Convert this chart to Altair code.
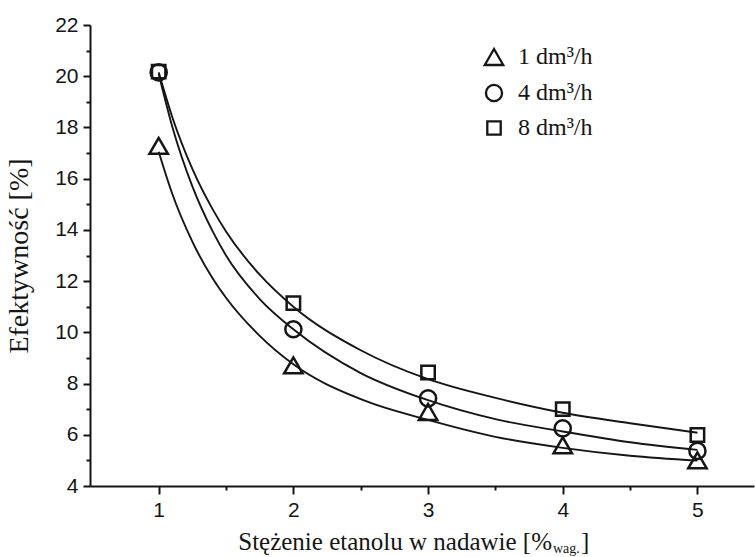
import altair as alt
import pandas as pd

# Ethanol concentration in the feed [wt %]
conc = [1, 2, 3, 4, 5]

# Flow-rate series
series = ["1 dm³/h", "4 dm³/h", "8 dm³/h"]
shapes = ["triangle-up", "circle", "square"]
marker_sizes = [340, 180, 190]

# Measured efficiency [%]
eff_1 = [17.28, 8.71, 6.89, 5.59, 5.00]
eff_4 = [20.15, 10.12, 7.42, 6.25, 5.37]
eff_8 = [20.18, 11.14, 8.43, 7.00, 5.99]

# Fitted trend curves, sampled along the concentration axis
fit_x = [1, 1.1, 1.25, 1.4, 1.5, 1.75, 2, 2.5, 3, 3.5, 4, 4.5, 5]
fit_1 = [17.05, 15.42, 13.54, 12.11, 11.35, 9.86, 8.75, 7.39, 6.58, 5.92, 5.49, 5.18, 4.99]
fit_4 = [20.10, 18.05, 15.70, 13.95, 13.00, 11.30, 10.12, 8.41, 7.35, 6.61, 6.13, 5.71, 5.41]
fit_8 = [20.15, 18.42, 16.38, 14.81, 13.94, 12.25, 11.00, 9.30, 8.17, 7.44, 6.86, 6.45, 6.08]

x_major = [1, 2, 3, 4, 5]
x_minor = [1.5, 2.5, 3.5, 4.5]
y_major = list(range(4, 23, 2))
y_minor = list(range(5, 22, 2))

x_title_main = "Stężenie etanolu w nadawie [%"
x_title_sub = "wag."
x_title_end = "]"
y_title = "Efektywność [%]"

ink = "#151515"

points = pd.DataFrame({
    "conc": conc * 3,
    "eff": eff_1 + eff_4 + eff_8,
    "series": [s for s in series for _ in conc],
})
curves = pd.DataFrame({
    "conc": fit_x * 3,
    "eff": fit_1 + fit_4 + fit_8,
    "series": [s for s in series for _ in fit_x],
})

x_scale = alt.Scale(domain=[0.49, 5.42], nice=False, zero=False)
y_scale = alt.Scale(domain=[4, 22], nice=False, zero=False)

W, H = 664, 461

# Curves carry the minor-tick axes
lines = alt.Chart(curves).mark_line(
    color=ink, strokeWidth=1.9, interpolate="monotone"
).encode(
    x=alt.X("conc:Q", scale=x_scale, axis=alt.Axis(
        orient="bottom", values=x_minor, labels=False, domain=False, grid=False,
        title=None, tickSize=4, tickWidth=2, tickColor=ink)),
    y=alt.Y("eff:Q", scale=y_scale, axis=alt.Axis(
        orient="left", values=y_minor, labels=False, domain=False, grid=False,
        title=None, tickSize=4, tickWidth=2, tickColor=ink)),
    detail="series:N",
)

legend = alt.Legend(
    title=None, orient="none", legendX=392, legendY=20, direction="vertical",
    labelFont="Liberation Serif", labelFontSize=24, labelColor=ink,
    labelOffset=12, rowPadding=10, padding=0,
    symbolStrokeColor=ink, symbolStrokeWidth=2.3,
)

markers = alt.Chart(points).mark_point(
    filled=False, strokeWidth=2.5, color=ink, opacity=1
).encode(
    x=alt.X("conc:Q", scale=x_scale, axis=alt.Axis(
        orient="bottom", values=x_major, format="d", grid=False, title=None,
        tickSize=8, tickWidth=2, tickColor=ink,
        domainWidth=2, domainColor=ink,
        labelFont="Liberation Sans", labelFontSize=21, labelColor=ink,
        labelPadding=5)),
    y=alt.Y("eff:Q", scale=y_scale, axis=alt.Axis(
        orient="left", values=y_major, format="d", grid=False, title=y_title,
        tickSize=7, tickWidth=2, tickColor=ink,
        domainWidth=2, domainColor=ink,
        labelFont="Liberation Sans", labelFontSize=21, labelColor=ink,
        labelPadding=5,
        titleFont="Liberation Serif", titleFontSize=28, titleFontWeight="normal",
        titleColor=ink, titleX=-57, titleY=H / 2, titleAngle=270)),
    shape=alt.Shape("series:N", scale=alt.Scale(domain=series, range=shapes), legend=legend),
    size=alt.Size("series:N", scale=alt.Scale(domain=series, range=marker_sizes), legend=legend),
)

# X-axis title with subscript unit
title_main = alt.Chart(pd.DataFrame({"t": [x_title_main]})).mark_text(
    font="Liberation Serif", fontSize=25, align="right", baseline="alphabetic", color=ink
).encode(text="t:N", x=alt.value(462), y=alt.value(525))
title_sub = alt.Chart(pd.DataFrame({"t": [x_title_sub]})).mark_text(
    font="Liberation Serif", fontSize=14, align="left", baseline="alphabetic", color=ink
).encode(text="t:N", x=alt.value(463), y=alt.value(528))
title_end = alt.Chart(pd.DataFrame({"t": [x_title_end]})).mark_text(
    font="Liberation Serif", fontSize=25, align="left", baseline="alphabetic", color=ink
).encode(text="t:N", x=alt.value(491), y=alt.value(525))

chart = alt.layer(lines, markers, title_main, title_sub, title_end).resolve_axis(
    x="independent", y="independent"
).properties(
    width=W, height=H,
    autosize=alt.AutoSizeParams(type="none"),
    padding={"left": 90, "top": 25, "right": 1, "bottom": 71},
    background="white",
).configure_view(stroke=None)

chart.save("out.html", embed_options={"renderer": "svg", "actions": False})
